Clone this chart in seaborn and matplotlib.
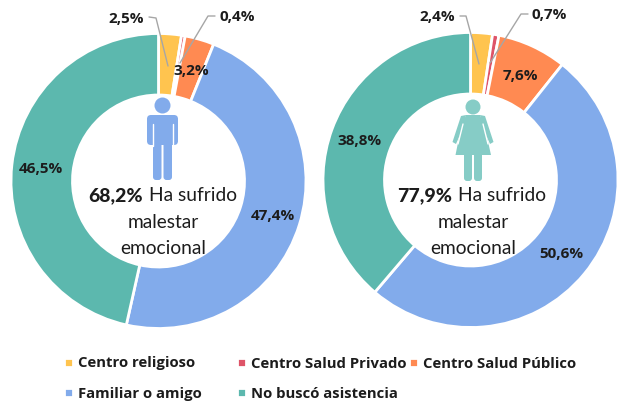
# donut charts: where people went for help, men vs women
import matplotlib
matplotlib.use("Agg")
import matplotlib.pyplot as plt
import seaborn as sns
from matplotlib.patches import Circle, FancyBboxPatch, Polygon

categories = ["Centro religioso", "Centro Salud Privado", "Centro Salud Público",
              "Familiar o amigo", "No buscó asistencia"]
men_values = [2.5, 0.4, 3.2, 47.4, 46.5]
women_values = [2.4, 0.7, 7.6, 50.6, 38.8]
men_total = "68,2%"
women_total = "77,9%"
center_text = ["Ha sufrido", "malestar", "emocional"]
colors = ["#FFC44F", "#DE5468", "#FF8A52", "#82ABEB", "#5CB8AE"]

W, H = 619, 403
INK = "#1c1c1c"

sns.set_theme(style="white")
plt.rcParams["font.family"] = ["Lato", "DejaVu Sans"]
palette = sns.color_palette(colors)

fig = plt.figure(figsize=(W / 100, H / 100), dpi=100)
ax = fig.add_axes([0, 0, 1, 1])


def py(y):
    # picture y (down) to axes y (up)
    return H - y


def donut(values, cx, cy, r):
    wedges, _ = ax.pie(values, colors=palette, startangle=90, counterclock=False,
                       center=(cx, py(cy)), radius=r,
                       wedgeprops=dict(width=r - 86, edgecolor="white", linewidth=2))
    return wedges


def pct(v):
    return f"{v}%".replace(".", ",")


def label(v, x, y):
    ax.text(x, py(y), pct(v), ha="center", va="center", fontsize=11,
            fontfamily="Open Sans", fontweight="bold", color=INK, zorder=5)


def leader(xs, ys):
    ax.plot(xs, [py(y) for y in ys], color="#a6a6a6", lw=1, zorder=4)


def middle(total, split, xmid):
    ax.text(split - 3, py(195.5), total, ha="right", va="center", fontsize=14,
            fontweight="black", color=INK, zorder=5)
    ax.text(split + 3, py(195.5), center_text[0], ha="left", va="center", fontsize=13.8,
            color=INK, zorder=5)
    ax.text(xmid, py(222), center_text[1], ha="center", va="center", fontsize=13.8,
            color=INK, zorder=5)
    ax.text(xmid, py(249), center_text[2], ha="center", va="center", fontsize=13.8,
            color=INK, zorder=5)


def legend_column(idx, x):
    fig.legend([wedges[i] for i in idx], [categories[i] for i in idx],
               loc="upper left", bbox_to_anchor=(x / W, py(356.5) / H), frameon=False,
               prop=dict(family="Open Sans", size=10.7, weight="bold"), labelcolor=INK,
               handlelength=0.6, handleheight=0.6, handletextpad=0.35,
               borderpad=0, borderaxespad=0, labelspacing=1.1)


wedges = donut(men_values, 158.5, 181, 147.5)
donut(women_values, 470.5, 180, 147.5)

leader([149, 156, 168], [17, 18, 66])
leader([215, 208, 180], [16, 16, 63])
leader([460, 466, 479], [16, 16, 64])
leader([528, 521, 490], [14, 14, 63])

for v, x, y in zip(men_values, [126, 237, 191, 273, 41], [19, 17, 71, 216, 169]):
    label(v, x, y)
for v, x, y in zip(women_values, [437, 549, 520, 561, 360], [17, 15, 76, 254, 141]):
    label(v, x, y)

middle(men_total, 146, 163)
middle(women_total, 455, 473)

# man icon
man = "#82ABEB"
ax.add_patch(Circle((162.5, py(105.5)), 8, color=man, lw=0))
ax.add_patch(FancyBboxPatch((147, py(145)), 31, 30, boxstyle="round,pad=0,rounding_size=4",
                            color=man, lw=0))
ax.add_patch(FancyBboxPatch((153, py(180)), 8.5, 60, boxstyle="round,pad=0,rounding_size=3",
                            color=man, lw=0))
ax.add_patch(FancyBboxPatch((163.5, py(180)), 8.5, 60, boxstyle="round,pad=0,rounding_size=3",
                            color=man, lw=0))
# slits between arms and trunk
for x in [152.5, 172.5]:
    ax.plot([x, x], [py(124), py(146)], color="white", lw=1, zorder=3)

# woman icon
woman = "#86CCC6"
ax.add_patch(Circle((473, py(107)), 7.5, color=woman, lw=0))
ax.add_patch(Polygon([(466, py(115)), (480, py(115)), (485, py(128)), (491, py(155)),
                      (455.5, py(155)), (461, py(128))], color=woman, lw=0))
ax.add_patch(Polygon([(466, py(115)), (461, py(116)), (452.5, py(142)), (456, py(144)),
                      (463, py(128))], color=woman, lw=0))
ax.add_patch(Polygon([(480, py(115)), (485, py(116)), (493.5, py(142)), (490, py(144)),
                      (483, py(128))], color=woman, lw=0))
ax.plot([463, 458], [py(124), py(144)], color="white", lw=1, zorder=3)
ax.plot([483, 488], [py(124), py(144)], color="white", lw=1, zorder=3)
ax.add_patch(FancyBboxPatch((464, py(181)), 8, 30, boxstyle="round,pad=0,rounding_size=3",
                            color=woman, lw=0))
ax.add_patch(FancyBboxPatch((474, py(181)), 8, 30, boxstyle="round,pad=0,rounding_size=3",
                            color=woman, lw=0))

ax.set_xlim(0, W)
ax.set_ylim(0, H)
ax.set_aspect("auto")

# the legend columns are not evenly spaced, so each one is its own legend
legend_column([0, 3], 64)
legend_column([1, 4], 237)
legend_column([2], 409)

fig.savefig("out.png", dpi=100)
